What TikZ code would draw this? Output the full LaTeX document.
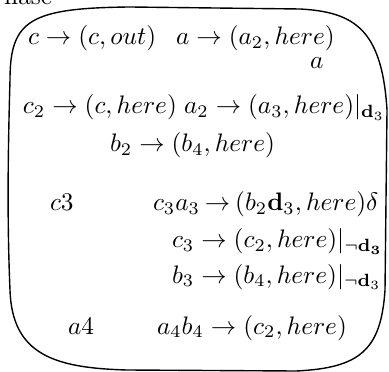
\documentclass[tikz,border=0pt]{standalone}
\usepackage{amsmath}
\begin{document}
\begin{tikzpicture}[x=0.395pt,y=-0.395pt,
  lbl/.style={anchor=base west,inner sep=0pt,outer sep=0pt},
  frame/.style={line width=0.55pt}]
\useasboundingbox (0,0) rectangle (389,372);
\node[lbl] (title) at (-13,5) {Phase};
\node[lbl] (r1a) at (28,45) {$c \to (c, out)$};
\node[lbl] (r1b) at (176,45) {$a \to (a_2, here)$};
\node[lbl] (r1c) at (310,69) {$a$};
\node[lbl] (r2a) at (23,114) {$c_2 \to (c, here)$};
\node[lbl] (r2b) at (184,114) {$a_2 \to (a_3, here)|_{\mathbf{d}_3}$};
\node[lbl] (r3) at (110,152) {$b_2 \to (b_4, here)$};
\node[lbl] (c3) at (50,211) {$c3$};
\node[lbl] (r4) at (153,211) {$c_3a_3\mkern-1.5mu \to\mkern-1.5mu (b_2\mathbf{d}_3, here)\delta$};
\node[lbl] (r5) at (172,248) {$c_3 \to (c_2, here)|_{\neg\mathbf{d_3}}$};
\node[lbl] (r6) at (172,283) {$b_3 \to (b_4, here)|_{\neg\mathbf{d}_3}$};
\node[lbl] (a4) at (68,334) {$a4$};
\node[lbl] (r7) at (157,334) {$a_4b_4 \to (c_2, here)$};
\draw[frame] (130,7) -- (300,9)
  .. controls (355,12) and (382,30) .. (387,110)
  -- (385,290)
  .. controls (381,350) and (360,368) .. (296,371)
  -- (127,370)
  .. controls (55,368) and (12,355) .. (10,290)
  .. controls (7,220) and (8,150) .. (10,80)
  .. controls (10,20) and (30,8) .. cycle;
\end{tikzpicture}
\end{document}
